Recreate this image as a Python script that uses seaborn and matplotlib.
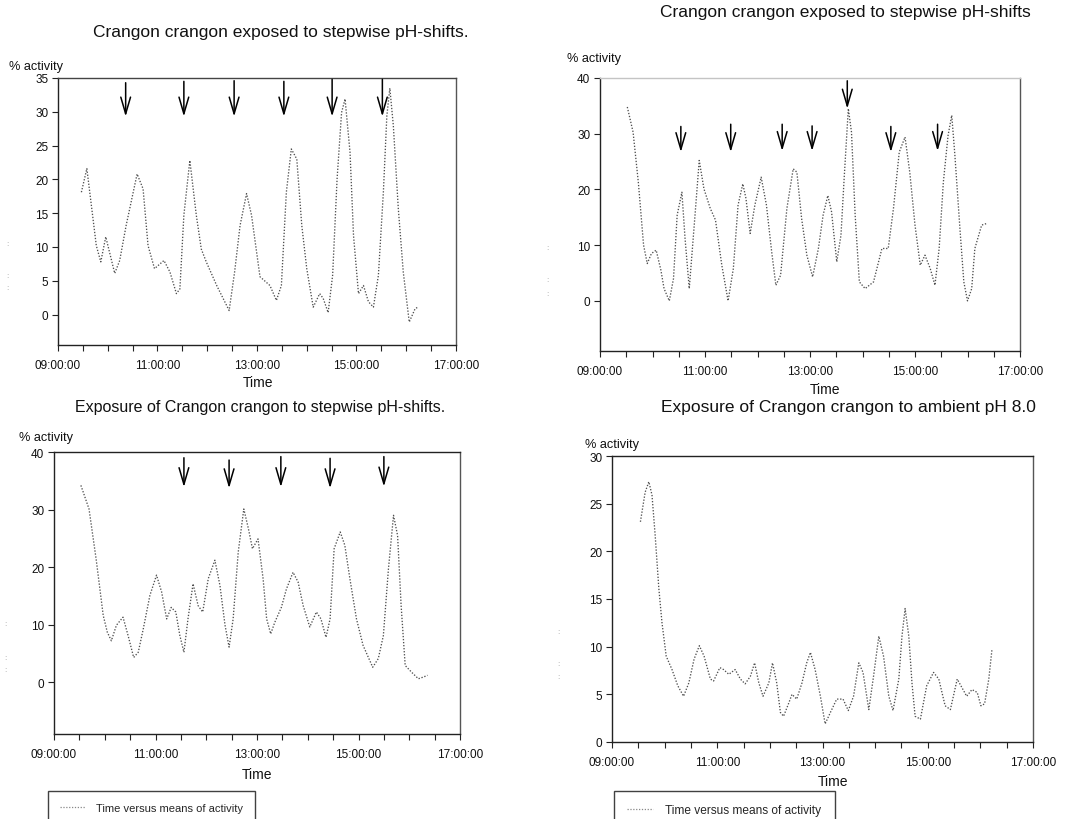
import matplotlib
matplotlib.use("Agg")
import matplotlib.pyplot as plt
from matplotlib.lines import Line2D
import seaborn as sns
import pandas as pd

# ---------------- data ----------------
p1_hours = [9.47, 9.58, 9.77, 9.86, 9.96, 10.14, 10.24, 10.37, 10.59, 10.71, 10.81, 10.94, 11.13, 11.25,
            11.38, 11.45, 11.53, 11.65, 11.78, 11.88, 11.98, 12.19, 12.44, 12.55, 12.66, 12.79, 12.89,
            13.06, 13.26, 13.39, 13.49, 13.59, 13.69, 13.80, 13.90, 14.00, 14.13, 14.26, 14.33, 14.43,
            14.52, 14.61, 14.70, 14.77, 14.87, 14.94, 15.04, 15.14, 15.24, 15.34, 15.44, 15.54, 15.61,
            15.67, 15.74, 15.84, 15.94, 16.06, 16.18, 16.24]
p1_activity = [18.1, 21.6, 10.2, 7.8, 11.5, 6.1, 8.0, 13.2, 20.8, 18.6, 10.2, 6.8, 8.0, 6.3,
               3.1, 3.8, 14.7, 22.8, 14.7, 9.7, 7.8, 4.3, 0.6, 6.3, 13.2, 17.9, 14.7,
               5.6, 4.3, 2.1, 4.3, 18.1, 24.5, 23.0, 13.2, 6.8, 1.1, 3.1, 2.4, 0.3,
               5.8, 20.1, 29.9, 31.9, 24.0, 11.7, 3.1, 4.3, 1.9, 1.1, 5.8, 18.1, 29.4,
               33.5, 28.0, 15.7, 6.3, -1.1, 0.9, 1.1]

p2_hours = [9.52, 9.63, 9.73, 9.83, 9.90, 9.98, 10.07, 10.16, 10.22, 10.32, 10.40, 10.47, 10.56, 10.62,
            10.70, 10.81, 10.89, 10.98, 11.10, 11.20, 11.32, 11.44, 11.54, 11.63, 11.72, 11.78, 11.86,
            11.95, 12.07, 12.17, 12.27, 12.35, 12.44, 12.56, 12.68, 12.75, 12.84, 12.94, 13.05, 13.16,
            13.25, 13.34, 13.41, 13.51, 13.59, 13.65, 13.73, 13.79, 13.86, 13.94, 14.05, 14.21, 14.37,
            14.49, 14.59, 14.70, 14.81, 14.90, 15.00, 15.10, 15.19, 15.29, 15.38, 15.46, 15.54, 15.63,
            15.70, 15.76, 15.86, 15.93, 16.00, 16.08, 16.14, 16.27, 16.37]
p2_activity = [34.8, 30.3, 21.3, 10.0, 6.7, 8.5, 9.1, 5.5, 2.2, 0.0, 4.0, 15.4, 19.5, 11.2,
               2.2, 15.4, 25.2, 20.1, 16.6, 14.5, 6.4, 0.0, 5.8, 17.2, 21.0, 18.4, 12.1,
               17.2, 22.2, 17.2, 8.8, 2.8, 4.6, 16.6, 23.7, 23.1, 14.8, 8.2, 4.3, 9.4,
               15.4, 18.9, 16.0, 7.0, 11.8, 21.9, 34.5, 30.3, 15.4, 3.4, 2.2, 3.4, 9.4,
               9.4, 16.6, 26.7, 29.4, 23.1, 13.6, 6.4, 8.2, 5.8, 2.8, 9.4, 21.3, 29.7,
               33.3, 26.1, 12.4, 3.4, 0.0, 2.2, 9.4, 13.6, 13.9]

p3_hours = [9.53, 9.69, 9.83, 9.97, 10.05, 10.13, 10.23, 10.36, 10.46, 10.57, 10.66, 10.76, 10.89, 11.02,
            11.12, 11.22, 11.31, 11.40, 11.48, 11.56, 11.64, 11.74, 11.84, 11.93, 12.04, 12.17, 12.27,
            12.37, 12.45, 12.53, 12.63, 12.74, 12.83, 12.91, 13.02, 13.12, 13.19, 13.27, 13.35, 13.48,
            13.58, 13.71, 13.81, 13.91, 14.04, 14.17, 14.26, 14.36, 14.44, 14.52, 14.64, 14.73, 14.83,
            14.96, 15.09, 15.28, 15.39, 15.49, 15.59, 15.69, 15.77, 15.84, 15.92, 16.05, 16.18, 16.28,
            16.36]
p3_activity = [34.2, 30.1, 21.4, 11.6, 8.7, 7.2, 9.9, 11.3, 8.1, 4.3, 5.2, 9.3, 15.1, 18.6,
               15.7, 11.0, 13.0, 12.2, 8.1, 5.2, 11.0, 17.1, 13.3, 12.2, 18.0, 21.2, 16.8,
               9.9, 6.1, 11.0, 22.6, 30.1, 26.7, 23.2, 24.9, 18.0, 11.0, 8.4, 10.4, 13.0,
               16.2, 19.1, 17.4, 13.3, 9.6, 12.2, 11.0, 7.8, 11.0, 23.2, 26.1, 23.8, 18.0,
               11.0, 6.4, 2.6, 4.1, 8.1, 19.7, 29.0, 25.5, 13.3, 2.9, 1.7, 0.6, 0.9,
               1.2]

p4_hours = [9.54, 9.63, 9.70, 9.76, 9.82, 9.89, 9.95, 10.03, 10.14, 10.25, 10.36, 10.46, 10.56, 10.66,
            10.75, 10.87, 10.93, 11.05, 11.12, 11.22, 11.34, 11.44, 11.53, 11.63, 11.71, 11.79, 11.87,
            11.98, 12.05, 12.13, 12.20, 12.26, 12.36, 12.42, 12.51, 12.61, 12.70, 12.77, 12.86, 12.96,
            13.05, 13.15, 13.27, 13.39, 13.49, 13.59, 13.69, 13.77, 13.88, 13.97, 14.07, 14.16, 14.26,
            14.34, 14.45, 14.51, 14.57, 14.64, 14.70, 14.76, 14.86, 14.98, 15.11, 15.21, 15.33, 15.43,
            15.56, 15.65, 15.74, 15.84, 15.94, 16.01, 16.08, 16.16, 16.22]
p4_activity = [23.1, 26.2, 27.3, 25.9, 21.7, 16.1, 12.5, 9.0, 7.6, 5.9, 4.8, 6.2, 8.7, 10.1,
               9.0, 6.6, 6.4, 7.8, 7.6, 7.1, 7.6, 6.6, 6.1, 6.9, 8.3, 6.2, 4.8,
               6.2, 8.3, 6.2, 3.1, 2.7, 4.1, 5.0, 4.5, 6.2, 8.3, 9.4, 7.6, 4.8,
               1.9, 3.1, 4.5, 4.5, 3.3, 4.8, 8.3, 7.3, 3.4, 6.9, 11.1, 9.0, 4.8,
               3.3, 6.6, 11.1, 14.0, 11.1, 6.2, 2.7, 2.4, 5.9, 7.3, 6.6, 3.8, 3.4,
               6.6, 5.7, 4.8, 5.5, 5.2, 3.8, 4.0, 6.6, 9.7]

# arrows marking pH shifts: time, top, tip
p1_arrow_hours = [10.36, 11.53, 12.54, 13.54, 14.51, 15.52]
p1_arrow_top = [34.3, 34.5, 34.6, 34.5, 34.8, 34.8]
p1_arrow_tip = [29.3, 29.3, 29.3, 29.3, 29.3, 29.3]

p2_arrow_hours = [10.54, 11.49, 12.47, 13.04, 13.71, 14.54, 15.43]
p2_arrow_top = [31.3, 31.7, 31.7, 31.4, 39.5, 31.3, 31.7]
p2_arrow_tip = [26.7, 26.7, 26.9, 26.9, 34.5, 26.7, 26.9]

p3_arrow_hours = [11.56, 12.45, 13.47, 14.44, 15.50]
p3_arrow_top = [39.0, 38.6, 39.2, 38.9, 39.2]
p3_arrow_tip = [33.9, 33.7, 33.9, 33.7, 34.0]

x_tick_hours = [9, 11, 13, 15, 17]
x_tick_labels = ["09:00:00", "11:00:00", "13:00:00", "15:00:00", "17:00:00"]

titles = ["Crangon crangon exposed to stepwise pH-shifts.",
          "Crangon crangon exposed to stepwise pH-shifts",
          "Exposure of Crangon crangon to stepwise pH-shifts.",
          "Exposure of Crangon crangon to ambient pH 8.0"]
legend_label = "Time versus means of activity"

# ---------------- style ----------------
sns.set_style("white")
plt.rcParams["font.family"] = ["Liberation Sans", "DejaVu Sans"]

W, H = 1088, 820
fig = plt.figure(figsize=(W / 100, H / 100), dpi=100)


def fx(px):
    return px / W


def fy(py):
    return 1 - py / H


def make_axes(x0, y0, x1, y1):
    return fig.add_axes([fx(x0), fy(y1), (x1 - x0) / W, (y1 - y0) / H])


LINE_COLOR = "#4f4f4f"

panels = [
    dict(box=(58, 79, 456, 346), hours=p1_hours, act=p1_activity, ylim=(-4.5, 35), yticks=range(0, 36, 5),
         arrows=(p1_arrow_hours, p1_arrow_top, p1_arrow_tip), top_color="#444444",
         title_xy=(281, 32), title_fs=12.5, ylab_xy=(9, 67), xlab_xy=(258, 383)),
    dict(box=(600, 79, 1020, 352), hours=p2_hours, act=p2_activity, ylim=(-9, 40), yticks=range(0, 41, 10),
         arrows=(p2_arrow_hours, p2_arrow_top, p2_arrow_tip), top_color="#c4c4c4",
         title_xy=(845, 13), title_fs=12.5, ylab_xy=(567, 59), xlab_xy=(825, 390)),
    dict(box=(54, 453, 460, 735), hours=p3_hours, act=p3_activity, ylim=(-9, 40), yticks=range(0, 41, 10),
         arrows=(p3_arrow_hours, p3_arrow_top, p3_arrow_tip), top_color="#222222",
         title_xy=(260, 408), title_fs=11.5, ylab_xy=(19, 438), xlab_xy=(257, 775)),
    dict(box=(612, 457, 1033, 743), hours=p4_hours, act=p4_activity, ylim=(0, 30), yticks=range(0, 31, 5),
         arrows=None, top_color="#222222",
         title_xy=(848, 408), title_fs=12.5, ylab_xy=(585, 445), xlab_xy=(833, 782)),
]

for i, p in enumerate(panels):
    ax = make_axes(*p["box"])
    df = pd.DataFrame({"hour": p["hours"], "activity": p["act"]})
    sns.lineplot(data=df, x="hour", y="activity", ax=ax, color=LINE_COLOR, linestyle=(0, (1, 1.3)),
                 linewidth=0.95, sort=False, estimator=None)
    ax.set_xlim(9, 17)
    ax.set_ylim(*p["ylim"])
    ax.set_xticks(x_tick_hours)
    ax.set_xticklabels(x_tick_labels)
    ax.set_xticks([h + 0.5 for h in range(9, 17)] + [10, 12, 14, 16], minor=True)
    ax.set_yticks(list(p["yticks"]))
    ax.set_xlabel("")
    ax.set_ylabel("")
    ax.tick_params(axis="both", which="both", direction="out", length=4, width=0.8, color="#222222",
                   labelsize=8.5, labelcolor="#111111", pad=3, bottom=True, left=True,
                   top=False, right=False)
    ax.tick_params(axis="x", which="major", pad=6)
    for side, sp in ax.spines.items():
        sp.set_visible(True)
        sp.set_linewidth(1.0)
        sp.set_color("#222222")
    ax.spines["top"].set_color(p["top_color"])
    ax.spines["right"].set_color("#555555")

    if p["arrows"] is not None:
        for t, top, tip in zip(*p["arrows"]):
            ax.annotate("", xy=(t, tip), xytext=(t, top),
                        arrowprops=dict(arrowstyle="->,head_length=1.2,head_width=0.35",
                                        color="black", lw=1.1, shrinkA=0, shrinkB=0))

    fig.text(fx(p["title_xy"][0]), fy(p["title_xy"][1]), titles[i], ha="center", va="center",
             fontsize=p["title_fs"], color="#111111")
    fig.text(fx(p["ylab_xy"][0]), fy(p["ylab_xy"][1]), "% activity", ha="left", va="center",
             fontsize=9.2, color="#111111")
    fig.text(fx(p["xlab_xy"][0]), fy(p["xlab_xy"][1]), "Time", ha="center", va="center",
             fontsize=10, color="#111111")

# faint cropped-off remnants at the panel edges (tiny dotted marks)
for mx, my in [(7, 245), (7, 276), (7, 289), (547, 248), (547, 281), (547, 295),
               (5, 625), (5, 658), (5, 671), (558, 633), (558, 665), (558, 678)]:
    fig.text(fx(mx), fy(my), ":", ha="center", va="center", fontsize=6, color="#9a9a9a")

# legends at the bottom (cut off by the figure edge, as in the reference)
for x0, fs in [(48, 8.0), (614, 8.6)]:
    h = Line2D([], [], color="#888888", linestyle=(0, (1, 1.3)), linewidth=0.9)
    leg = fig.legend([h], [legend_label], loc="upper left", bbox_to_anchor=(fx(x0), fy(792)),
                     frameon=True, fancybox=False, fontsize=fs, borderpad=1.1, handlelength=2.2,
                     handletextpad=1.0, borderaxespad=0)
    leg.get_frame().set_edgecolor("#111111")
    leg.get_frame().set_linewidth(1.0)

fig.savefig("out.png", dpi=100)
